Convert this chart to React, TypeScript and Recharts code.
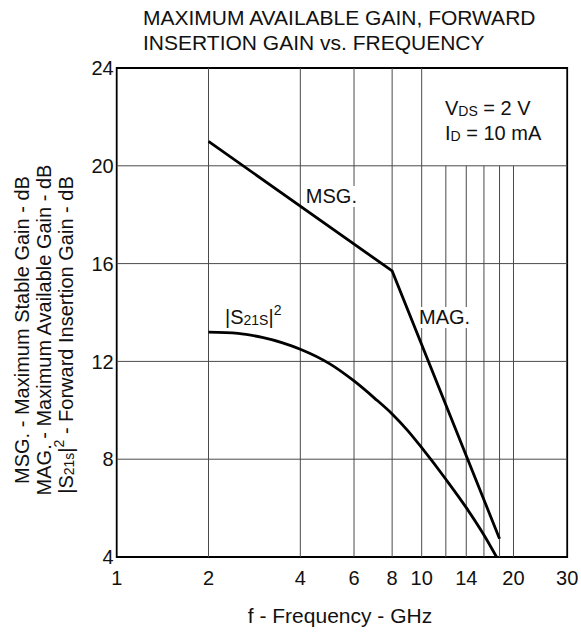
import React from 'react';
import { LineChart, Line, XAxis, YAxis, ReferenceLine, ReferenceDot, ReferenceArea } from 'recharts';

const FONT = '"Liberation Sans", Arial, sans-serif';
const INK = '#111';

// Data
const msgMagFreq = [2, 8, 18];
const msgMagGain = [21.0, 15.7, 4.75];
const s21Freq = [2, 2.5, 3, 3.5, 4, 5, 6, 7, 8, 9, 10, 12, 14, 16, 17.6];
const s21Gain = [13.2, 13.15, 12.98, 12.76, 12.5, 11.9, 11.2, 10.5, 9.85, 9.17, 8.47, 7.18, 6.02, 4.9, 4.0];

const xTicks = [1, 2, 4, 6, 8, 10, 14, 20, 30];
const yTicks = [4, 8, 12, 16, 20, 24];
const majorGridFreq = [2, 4, 6, 8, 10];
const minorGridFreq = [12, 14, 16, 18, 20];
const gridGain = [8, 12, 16, 20];

const msgMagData = msgMagFreq.map((f, i) => ({ f, g: msgMagGain[i] }));
const s21Data = s21Freq.map((f, i) => ({ f, g: s21Gain[i] }));

const textAt = (render: (cx: number, cy: number) => React.ReactNode) => (p: any) => (
  <g>{render(p.cx, p.cy)}</g>
);

export default function App() {
  return (
    <div style={{ position: 'absolute', left: 0, top: 0, width: 581, height: 632, background: '#fff' }}>
      <LineChart
        width={581}
        height={632}
        margin={{ top: 68, right: 13.8, bottom: 45, left: 76.7 }}
      >
        <XAxis
          dataKey="f"
          type="number"
          scale="log"
          domain={[1, 30]}
          allowDataOverflow
          ticks={xTicks}
          interval={0}
          height={30}
          axisLine={false}
          tickLine={false}
          tickSize={6}
          tickMargin={8}
          tick={{ fill: INK, fontSize: 20, fontFamily: FONT }}
        />
        <YAxis
          type="number"
          domain={[4, 24]}
          ticks={yTicks}
          interval={0}
          width={40}
          axisLine={false}
          tickLine={false}
          tickSize={3}
          tickMargin={0}
          tick={{ fill: INK, fontSize: 20, fontFamily: FONT }}
        />
        {gridGain.map((g) => (
          <ReferenceLine key={'h' + g} y={g} stroke="#4a4a4a" strokeWidth={1} />
        ))}
        {majorGridFreq.map((f) => (
          <ReferenceLine key={'v' + f} x={f} stroke="#4a4a4a" strokeWidth={1} />
        ))}
        {minorGridFreq.map((f) => (
          <ReferenceLine
            key={'m' + f}
            segment={[{ x: f, y: 4 }, { x: f, y: 20 }]}
            stroke="#4a4a4a"
            strokeWidth={1}
          />
        ))}
        <ReferenceArea x1={1} x2={30} y1={4} y2={24} fill="none" fillOpacity={0} stroke="#000" strokeWidth={1.8} />
        <Line
          data={msgMagData}
          dataKey="g"
          type="linear"
          stroke="#000"
          strokeWidth={2.8}
          dot={false}
          activeDot={false}
          isAnimationActive={false}
        />
        <Line
          data={s21Data}
          dataKey="g"
          type="monotone"
          stroke="#000"
          strokeWidth={2.8}
          dot={false}
          activeDot={false}
          isAnimationActive={false}
        />
        <ReferenceDot
          x={4.17}
          y={18.48}
          r={1}
          shape={textAt((cx, cy) => (
            <>
              <rect x={cx - 1} y={cy - 17} width={54} height={21} fill="#fff" />
              <text x={cx} y={cy} fontSize={20} fontFamily={FONT} fill={INK}>MSG.</text>
            </>
          ))}
        />
        <ReferenceDot
          x={9.8}
          y={13.53}
          r={1}
          shape={textAt((cx, cy) => (
            <>
              <rect x={cx - 1} y={cy - 17} width={54} height={21} fill="#fff" />
              <text x={cx} y={cy} fontSize={20} fontFamily={FONT} fill={INK}>MAG.</text>
            </>
          ))}
        />
        <ReferenceDot
          x={2.265}
          y={13.53}
          r={1}
          shape={textAt((cx, cy) => (
            <text x={cx} y={cy} fontSize={20} fontFamily={FONT} fill={INK}>
              |S<tspan fontSize={14} dy={1}>21S</tspan>
              <tspan dy={-1}>|</tspan>
              <tspan fontSize={14} dy={-9}>2</tspan>
            </text>
          ))}
        />
        <ReferenceDot
          x={11.92}
          y={22.08}
          r={1}
          shape={textAt((cx, cy) => (
            <text x={cx} y={cy} fontSize={20} fontFamily={FONT} fill={INK}>
              V<tspan fontSize={14} dy={1}>DS</tspan>
              <tspan dy={-1}> = 2 V</tspan>
            </text>
          ))}
        />
        <ReferenceDot
          x={11.92}
          y={21.06}
          r={1}
          shape={textAt((cx, cy) => (
            <text x={cx} y={cy} fontSize={20} fontFamily={FONT} fill={INK}>
              I<tspan fontSize={14} dy={1}>D</tspan>
              <tspan dy={-1}> = 10 mA</tspan>
            </text>
          ))}
        />
      </LineChart>
      <svg
        width={581}
        height={632}
        style={{ position: 'absolute', left: 0, top: 0, pointerEvents: 'none' }}
      >
        <g fontFamily={FONT} fill={INK}>
          <text x={143} y={25} fontSize={21}>MAXIMUM AVAILABLE GAIN, FORWARD</text>
          <text x={143} y={50} fontSize={21}>INSERTION GAIN vs. FREQUENCY</text>
          <text x={340} y={623} fontSize={21} textAnchor="middle">f - Frequency - GHz</text>
          <text transform="translate(22,330) rotate(-90)" textAnchor="middle" dy="0.35em" fontSize={20}>
            MSG. - Maximum Stable Gain - dB
          </text>
          <text transform="translate(44,330) rotate(-90)" textAnchor="middle" dy="0.35em" fontSize={20}>
            MAG. - Maximum Available Gain - dB
          </text>
          <text transform="translate(66,335) rotate(-90)" textAnchor="middle" dy="0.35em" fontSize={20}>
            |S<tspan fontSize={14} dy={1}>21s</tspan>
            <tspan dy={-1}>|</tspan>
            <tspan fontSize={14} dy={-9}>2</tspan>
            <tspan dy={9}> - Forward Insertion Gain - dB</tspan>
          </text>
        </g>
      </svg>
    </div>
  );
}
